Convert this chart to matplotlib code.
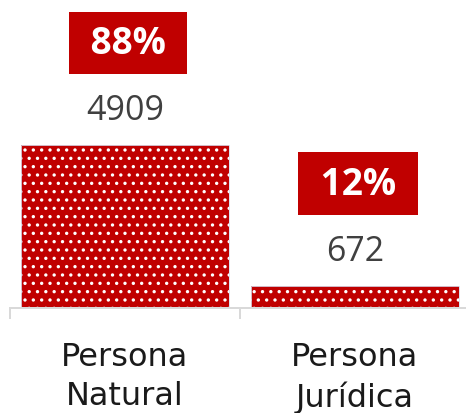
import matplotlib
matplotlib.use("Agg")
import matplotlib.pyplot as plt

categories = ["Persona\nNatural", "Persona\nJurídica"]
counts = [4909, 672]
shares = ["88%", "12%"]

RED = "#c00000"
PX = 0.72  # points per pixel at dpi=100

plt.rcParams["hatch.linewidth"] = 1.2

fig = plt.figure(figsize=(4.66, 4.14), dpi=100)
# axes: left edge at x=10px, each category 230px wide, baseline at y=309px
ax = fig.add_axes([10 / 466, 105 / 414, 460 / 466, 309 / 414])

x = list(range(len(categories)))
ax.bar(x, counts, width=208 / 230, color=RED, edgecolor="white",
       linewidth=0, hatch="..")
ax.bar(x, counts, width=208 / 230, fill=False, edgecolor="#d6dcec", linewidth=0.6)

ax.set_xlim(-0.5, 1.5)
ax.set_ylim(0, 4909 * 309 / 163)

for xi, c, s in zip(x, counts, shares):
    ax.annotate(f"{c}", (xi, c), xytext=(0, 25.5 * PX), textcoords="offset points",
                ha="center", va="baseline", fontsize=34 * PX, color="#404040",
                family="Open Sans")
    ax.annotate(f" {s} ", (xi, c), xytext=(3 * PX, 92 * PX), textcoords="offset points",
                ha="center", va="baseline", fontsize=37 * PX, color="white",
                fontweight="bold", family="Open Sans",
                bbox=dict(boxstyle="square,pad=0.33", fc=RED, ec="none"))

ax.set_xticks([-0.5, 0.5, 1.5])
ax.set_xticklabels([])
ax.set_xticks(x, minor=True)
ax.set_xticklabels(categories, minor=True, fontsize=32 * PX, color="#1a1a1a",
                   family="DejaVu Sans", linespacing=1.33)
ax.tick_params(axis="x", which="major", length=11 * PX, width=2 * PX, color="#d9d9d9")
ax.tick_params(axis="x", which="minor", length=0, pad=33 * PX)
ax.set_yticks([])
for side in ["top", "right", "left"]:
    ax.spines[side].set_visible(False)
ax.spines["bottom"].set_color("#d9d9d9")
ax.spines["bottom"].set_linewidth(2 * PX)

fig.savefig("out.png", dpi=100)
